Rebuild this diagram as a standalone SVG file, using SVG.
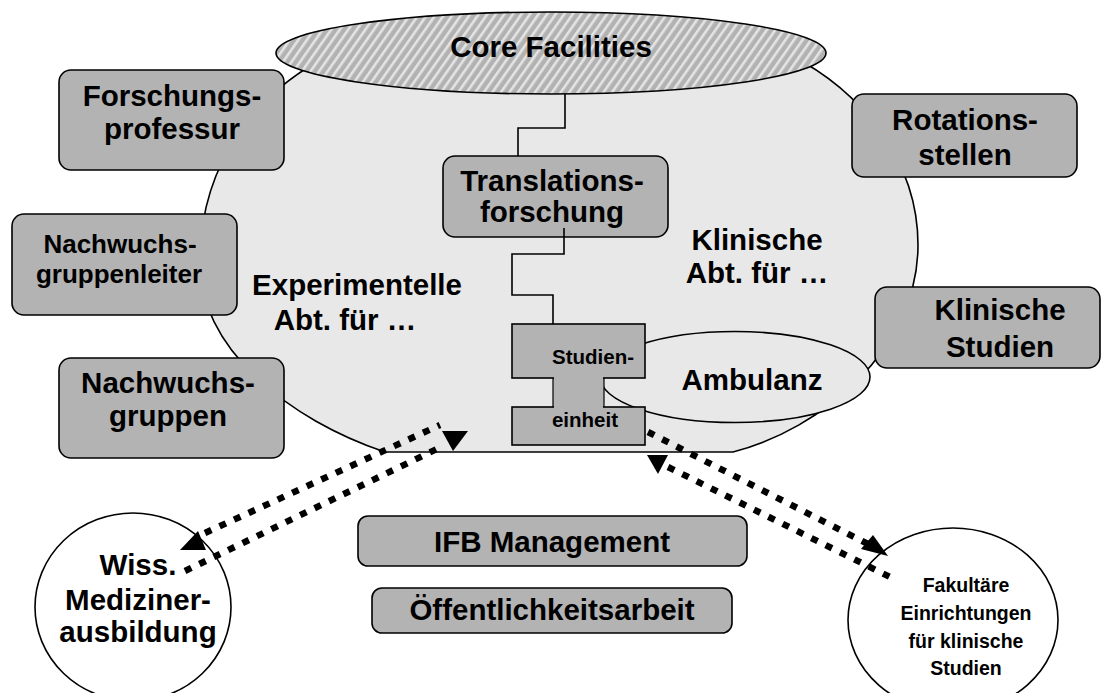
<svg xmlns="http://www.w3.org/2000/svg" width="1102" height="693" viewBox="0 0 1102 693">
<defs>
<pattern id="hatch" patternUnits="userSpaceOnUse" width="7" height="7" patternTransform="rotate(35)">
<rect width="7" height="7" fill="#b2b2b2"/>
<rect x="0" y="0" width="2.6" height="7" fill="#e4e4e4"/>
</pattern>
<style>
.t{font-family:"Liberation Sans",Arial,sans-serif;font-weight:bold;fill:#000;text-anchor:middle;font-size:29.5px}
.s{font-size:26px}
.m{font-size:20.5px}
.f{font-size:19.5px}
.box{fill:#b3b3b3;stroke:#000;stroke-width:1.6}
.ln{fill:none;stroke:#000;stroke-width:1.6}
.dot{fill:none;stroke:#000;stroke-width:6.5;stroke-dasharray:7 9}
.ah{fill:#000}
</style>
</defs>
<rect width="1102" height="693" fill="#fff"/>

<g id="blob">
<path d="M385,452 C290,420 200,350 200,262 C200,160 260,90 330,55 L790,55 C860,90 918,160 918,245 C918,350 820,430 733,452 Z" fill="#e8e8e8" stroke="#000" stroke-width="1.6"/>
<text class="t" x="357" y="295">Experimentelle</text>
<text class="t" x="345" y="330">Abt. für …</text>
<text class="t" x="757" y="250">Klinische</text>
<text class="t" x="757" y="283">Abt. für …</text>
</g>

<g id="core">
<ellipse cx="551" cy="53" rx="275" ry="41" fill="url(#hatch)" stroke="#000" stroke-width="1.6"/>
<text class="t" x="551" y="57">Core Facilities</text>
</g>

<g id="forschungsprofessur">
<rect class="box" x="59" y="70" width="225" height="100" rx="12"/>
<text class="t" x="172" y="106">Forschungs-</text>
<text class="t" x="172" y="139">professur</text>
</g>

<g id="nachwuchsgruppenleiter">
<rect class="box" x="12" y="214" width="225" height="101" rx="12"/>
<text class="t s" x="120" y="253">Nachwuchs-</text>
<text class="t s" x="119" y="283">gruppenleiter</text>
</g>

<g id="nachwuchsgruppen">
<rect class="box" x="59" y="358" width="225" height="100" rx="12"/>
<text class="t" x="168" y="393">Nachwuchs-</text>
<text class="t" x="168" y="426">gruppen</text>
</g>

<g id="rotationsstellen">
<rect class="box" x="852" y="94" width="225" height="83" rx="12"/>
<text class="t" x="965" y="130">Rotations-</text>
<text class="t" x="965" y="165">stellen</text>
</g>

<g id="klinische-studien">
<rect class="box" x="875" y="287" width="225" height="81" rx="12"/>
<text class="t" x="1000" y="320">Klinische</text>
<text class="t" x="1000" y="357">Studien</text>
</g>

<g id="translationsforschung">
<rect class="box" x="443" y="156" width="225" height="81" rx="12"/>
<text class="t" x="552" y="191">Translations-</text>
<text class="t" x="552" y="222">forschung</text>
</g>

<g id="ambulanz">
<ellipse cx="735" cy="377" rx="135" ry="45.5" fill="#e8e8e8" stroke="#000" stroke-width="1.6"/>
<text class="t" x="752" y="390">Ambulanz</text>
</g>

<g id="studieneinheit">
<rect x="553" y="370" width="51" height="45" fill="#b3b3b3" stroke="#000" stroke-width="1.2"/>
<rect class="box" x="512" y="324" width="133" height="54"/>
<rect class="box" x="512" y="407" width="133" height="38"/>
<rect x="554" y="376" width="49" height="33" fill="#b3b3b3"/>
<text class="t m" x="593" y="364">Studien-</text>
<text class="t m" x="585" y="427">einheit</text>
</g>

<g id="ifb-management">
<rect class="box" x="358" y="516" width="389" height="50" rx="10"/>
<text class="t" x="552" y="552">IFB Management</text>
</g>

<g id="oeffentlichkeitsarbeit">
<rect class="box" x="372" y="588" width="360" height="45" rx="10"/>
<text class="t" x="552" y="620">Öffentlichkeitsarbeit</text>
</g>

<g id="wiss">
<ellipse cx="133" cy="607" rx="98" ry="94" fill="#fff" stroke="#000" stroke-width="1.6"/>
<text class="t" x="138" y="575">Wiss.</text>
<text class="t" x="138" y="610">Mediziner-</text>
<text class="t" x="138" y="642">ausbildung</text>
</g>

<g id="fakultaere">
<ellipse cx="953" cy="620" rx="105" ry="92" fill="#fff" stroke="#000" stroke-width="1.6"/>
<text class="t f" x="966" y="592">Fakultäre</text>
<text class="t f" x="966" y="620">Einrichtungen</text>
<text class="t f" x="966" y="648">für klinische</text>
<text class="t f" x="966" y="675">Studien</text>
</g>

<g id="connectors">
<polyline class="ln" points="565,94 565,128 518,128 518,156"/>
<polyline class="ln" points="564,228 564,254 512,254 512,295 553,295 553,324"/>
<line class="dot" x1="205" y1="533" x2="440" y2="425"/>
<line class="dot" x1="185" y1="571" x2="443" y2="446"/>
<line class="dot" x1="648" y1="432" x2="868" y2="544"/>
<line class="dot" x1="668" y1="467" x2="892" y2="578"/>
<polygon class="ah" points="180,550 206,550 198,531"/>
<polygon class="ah" points="442,431 468,431 453,451"/>
<polygon class="ah" points="647,455 668,455 658,474"/>
<polygon class="ah" points="873,535 888,556 861,549"/>
</g>
</svg>
